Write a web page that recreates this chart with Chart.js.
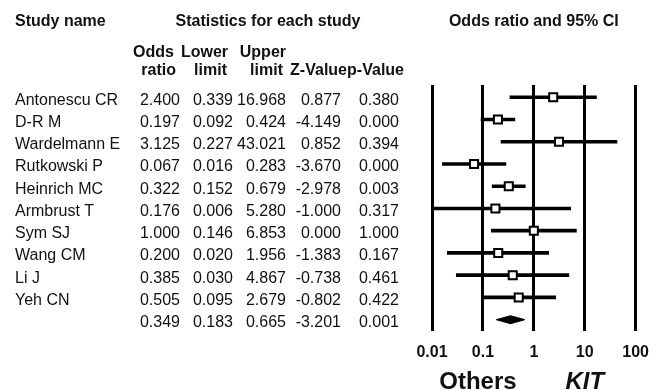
<!DOCTYPE html>
<html>
<head>
<meta charset="utf-8">
<script src="https://cdn.jsdelivr.net/npm/chart.js@4/dist/chart.umd.min.js"></script>
<style>
  html, body { margin: 0; padding: 0; background: #fff; }
  .wrap { width: 661px; height: 390px; position: relative; }
</style>
</head>
<body>
<div class="wrap"><canvas id="forest"></canvas></div>
<script>
// study rows, top to bottom
const studies = ['Antonescu CR', 'D-R M', 'Wardelmann E', 'Rutkowski P', 'Heinrich MC',
  'Armbrust T', 'Sym SJ', 'Wang CM', 'Li J', 'Yeh CN'];
const oddsRatio = [2.400, 0.197, 3.125, 0.067, 0.322, 0.176, 1.000, 0.200, 0.385, 0.505];
const lowerLimit = [0.339, 0.092, 0.227, 0.016, 0.152, 0.006, 0.146, 0.020, 0.030, 0.095];
const upperLimit = [16.968, 0.424, 43.021, 0.283, 0.679, 5.280, 6.853, 1.956, 4.867, 2.679];
const zValue = [0.877, -4.149, 0.852, -3.670, -2.978, -1.000, 0.000, -1.383, -0.738, -0.802];
const pValue = [0.380, 0.000, 0.394, 0.000, 0.003, 0.317, 1.000, 0.167, 0.461, 0.422];
// pooled: odds ratio, lower, upper, z, p
const pooled = [0.349, 0.183, 0.665, -3.201, 0.001];
const xTicks = [0.01, 0.1, 1, 10, 100];

const FONT = 'Liberation Sans, Arial, Helvetica, sans-serif';
const summaryRow = studies.length;
const diamondHalf = 0.18; // half height of the pooled diamond, in row units

// text table left of the plot, placed with the chart's y scale
const tablePlugin = {
  id: 'table',
  afterDraw(chart) {
    const { ctx, scales: { x, y } } = chart;
    ctx.save();
    ctx.fillStyle = '#111';
    ctx.textBaseline = 'middle';

    ctx.font = `bold 16px ${FONT}`;
    ctx.textAlign = 'left';
    ctx.fillText('Study name', 15, 22);
    ctx.textAlign = 'center';
    ctx.fillText('Statistics for each study', 268, 22);
    ctx.fillText('Odds ratio and 95% CI', (chart.chartArea.left + chart.chartArea.right) / 2, 22);

    ctx.textAlign = 'right';
    const head1 = [['Odds', 174], ['Lower', 228], ['Upper', 286]];
    const head2 = [['ratio', 176], ['limit', 227], ['limit', 283], ['Z-Value', 347], ['p-Value', 404]];
    head1.forEach(([t, px]) => ctx.fillText(t, px, 53));
    head2.forEach(([t, px]) => ctx.fillText(t, px, 71));

    ctx.font = `16px ${FONT}`;
    const cols = [180, 233, 286, 341, 399];
    const rowText = (vals, row) => {
      const py = y.getPixelForValue(row) + 3;
      ctx.textAlign = 'right';
      vals.forEach((v, j) => ctx.fillText(v.toFixed(3), cols[j], py));
    };
    studies.forEach((name, i) => {
      ctx.textAlign = 'left';
      ctx.fillText(name, 15, y.getPixelForValue(i) + 3);
      rowText([oddsRatio[i], lowerLimit[i], upperLimit[i], zValue[i], pValue[i]], i);
    });
    rowText(pooled, summaryRow);

    ctx.font = `bold 24px ${FONT}`;
    ctx.textAlign = 'center';
    ctx.fillText('Others', x.getPixelForValue(0.1) - 5, 382);
    ctx.font = `italic bold 24px ${FONT}`;
    ctx.fillText('KIT', x.getPixelForValue(10), 382);
    ctx.restore();
  }
};

new Chart(document.getElementById('forest'), {
  data: {
    datasets: [
      {
        type: 'bar',
        indexAxis: 'y',
        data: studies.map((_, i) => ({ y: i, x: [lowerLimit[i], upperLimit[i]] })),
        backgroundColor: '#000',
        borderWidth: 0,
        barThickness: 3,
        order: 3,
      },
      {
        type: 'scatter',
        data: [
          { x: pooled[1], y: summaryRow },
          { x: pooled[0], y: summaryRow - diamondHalf },
          { x: pooled[2], y: summaryRow },
          { x: pooled[0], y: summaryRow + diamondHalf },
          { x: pooled[1], y: summaryRow },
        ],
        showLine: true,
        fill: 'shape',
        backgroundColor: '#000',
        borderColor: '#000',
        borderWidth: 1,
        pointRadius: 0,
        order: 2,
      },
      {
        type: 'scatter',
        data: studies.map((_, i) => ({ x: oddsRatio[i], y: i })),
        pointStyle: 'rect',
        pointRadius: 5.7,
        pointBackgroundColor: '#fff',
        pointBorderColor: '#000',
        pointBorderWidth: 2,
        order: 1,
      },
    ],
  },
  options: {
    responsive: true,
    maintainAspectRatio: false,
    animation: false,
    layout: { padding: { top: 85, left: 432, right: 25, bottom: 16 } },
    plugins: { legend: { display: false }, tooltip: { enabled: false } },
    scales: {
      x: {
        type: 'logarithmic',
        min: 0.01,
        max: 100,
        afterBuildTicks: (scale) => { scale.ticks = xTicks.map((v) => ({ value: v })); },
        grid: { color: '#000', lineWidth: 3, drawTicks: false },
        border: { display: false },
        ticks: {
          color: '#111',
          padding: 12,
          font: { family: FONT, size: 16, weight: 'bold' },
          callback: (v) => String(v),
          maxRotation: 0,
          autoSkip: false,
        },
      },
      y: {
        type: 'linear',
        display: false,
        offset: false,
        reverse: true,
        min: -0.55,
        max: 10.5,
      },
    },
  },
  plugins: [tablePlugin],
});
</script>
</body>
</html>
